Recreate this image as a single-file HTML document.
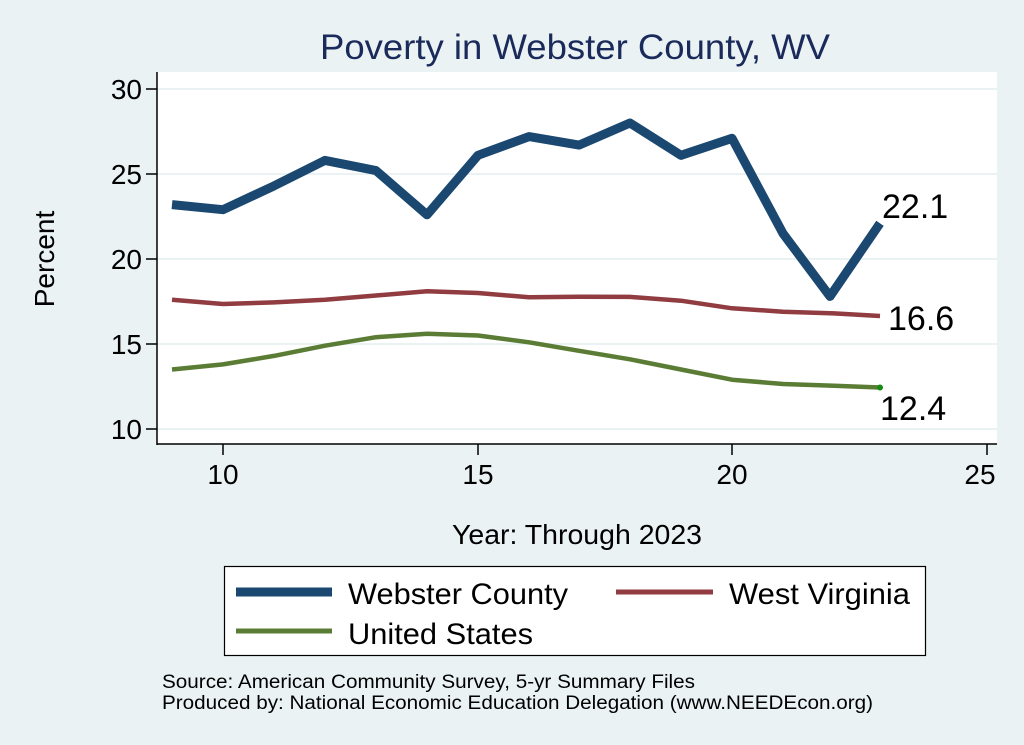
<!DOCTYPE html>
<html><head><meta charset="utf-8"><style>
body{margin:0;background:#eaf2f3;}
svg{display:block;font-family:"Liberation Sans",Arial,sans-serif;}
</style></head><body>
<svg width="1024" height="745" viewBox="0 0 1024 745">
<rect width="1024" height="745" fill="#eaf2f3"/>
<rect x="157" y="72" width="840" height="372" fill="#fff"/>
<g stroke="#eaf2f3" stroke-width="2">
<line x1="157" x2="997" y1="89" y2="89"/><line x1="157" x2="997" y1="174" y2="174"/>
<line x1="157" x2="997" y1="259" y2="259"/><line x1="157" x2="997" y1="344" y2="344"/>
<line x1="157" x2="997" y1="429" y2="429"/>
</g>
<g stroke="#000" stroke-width="1.5">
<line x1="157" y1="72" x2="157" y2="445"/><line x1="157" y1="444" x2="997" y2="444"/>
<line x1="146" x2="157" y1="89" y2="89"/><line x1="146" x2="157" y1="174" y2="174"/>
<line x1="146" x2="157" y1="259" y2="259"/><line x1="146" x2="157" y1="344" y2="344"/>
<line x1="146" x2="157" y1="429" y2="429"/>
<line x1="223" x2="223" y1="444" y2="455"/><line x1="478" x2="478" y1="444" y2="455"/>
<line x1="732" x2="732" y1="444" y2="455"/><line x1="987" x2="987" y1="444" y2="455"/>
</g>
<g font-size="28" text-anchor="end" fill="#000">
<text x="142" y="99">30</text><text x="142" y="184">25</text><text x="142" y="269">20</text>
<text x="142" y="354">15</text><text x="142" y="439">10</text>
</g>
<g font-size="28" text-anchor="middle" fill="#000">
<text x="223" y="484">10</text><text x="478" y="484">15</text><text x="732" y="484">20</text><text x="980" y="484">25</text>
</g>
<text x="452" y="544" font-size="28" textLength="250" lengthAdjust="spacingAndGlyphs">Year: Through 2023</text>
<text transform="translate(54,259) rotate(-90)" font-size="28" text-anchor="middle">Percent</text>
<text x="320" y="59" font-size="35" textLength="510" lengthAdjust="spacingAndGlyphs" fill="#1a2a5a">Poverty in Webster County, WV</text>
<polyline fill="none" stroke="#5a7c34" stroke-width="4.5" stroke-linejoin="round" points="172,369.5 223,364.4 274,355.9 325,345.7 376,337.2 427,333.8 478,335.5 529,342.3 579,350.8 630,359.3 681,369.5 732,379.7 783,384 834,385.7 880,387.5"/>
<circle cx="880" cy="387.5" r="3" fill="#128c12"/>
<polyline fill="none" stroke="#903c40" stroke-width="4.5" stroke-linejoin="round" points="172,299.8 223,304 274,302.4 325,299.8 376,295.5 427,291.3 478,293 529,297.3 579,296.7 630,296.9 681,300.7 732,308.3 783,311.7 834,313.4 880,316"/>
<polyline fill="none" stroke="#1b4870" stroke-width="9" stroke-linejoin="round" points="172,204.6 223,209.7 274,185.9 325,160.4 376,170.6 427,214.8 478,155.3 529,136.6 579,145.1 630,123 681,155.3 732,138.3 783,233.5 830,296.4 880,223.3"/>
<g font-size="34" fill="#000">
<text x="882" y="218">22.1</text><text x="888" y="330">16.6</text><text x="880" y="420">12.4</text>
</g>
<rect x="224.5" y="566.5" width="701" height="89" fill="#fff" stroke="#000" stroke-width="1.2"/>
<line x1="236" x2="332" y1="592" y2="592" stroke="#1b4870" stroke-width="9"/>
<line x1="616" x2="713" y1="592" y2="592" stroke="#903c40" stroke-width="5"/>
<line x1="236" x2="332" y1="631" y2="631" stroke="#5a7c34" stroke-width="5"/>
<g font-size="30" fill="#000">
<text x="348" y="604" textLength="220" lengthAdjust="spacingAndGlyphs">Webster County</text><text x="729" y="604" textLength="181" lengthAdjust="spacingAndGlyphs">West Virginia</text><text x="348" y="644" textLength="185" lengthAdjust="spacingAndGlyphs">United States</text>
</g>
<g font-size="19" fill="#000">
<text x="162" y="688" textLength="533" lengthAdjust="spacingAndGlyphs">Source: American Community Survey, 5-yr Summary Files</text>
<text x="162" y="709" textLength="711" lengthAdjust="spacingAndGlyphs">Produced by: National Economic Education Delegation (www.NEEDEcon.org)</text>
</g>
</svg>
</body></html>
